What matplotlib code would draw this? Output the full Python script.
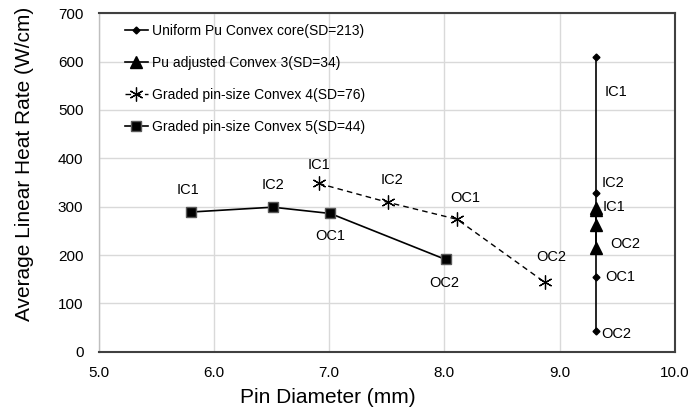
import matplotlib
matplotlib.use('Agg')
import matplotlib.pyplot as plt

plt.rcParams['font.family'] = ['Liberation Sans', 'DejaVu Sans']

# data
regions = ['IC1', 'IC2', 'OC1', 'OC2']
uni_x = [9.32, 9.32, 9.32, 9.32]
uni_y = [609, 328, 155, 43]
pu_x = [9.32, 9.32, 9.32, 9.32]
pu_y = [297, 293, 262, 215]
g4_x = [6.91, 7.51, 8.11, 8.87]
g4_y = [348, 309, 274, 144]
g5_x = [5.80, 6.51, 7.01, 8.01]
g5_y = [289, 299, 286, 191]

labels = ['Uniform Pu Convex core(SD=213)',
          'Pu adjusted Convex 3(SD=34)',
          'Graded pin-size Convex 4(SD=76)',
          'Graded pin-size Convex 5(SD=44)']

fig = plt.figure(figsize=(6.9, 4.12), dpi=100)
ax = fig.add_axes([0.143, 0.146, 0.835, 0.822])

ax.plot(uni_x, uni_y, color='black', lw=1.2, marker='D', ms=3.5, label=labels[0])
ax.plot(pu_x, pu_y, color='black', lw=1.2, marker='^', ms=9, label=labels[1])
ax.plot(g4_x, g4_y, color='black', lw=1, ls=(0, (4, 3)), marker=(6, 2, 0), ms=10,
        mew=0.9, label=labels[2])
ax.plot(g5_x, g5_y, color='black', lw=1.2, marker='s', ms=7, mec='#595959',
        mew=1, label=labels[3])

# point labels (offsets in points)
fs = 10.5
def lab(x, y, t, dx, dy, ha='center'):
    ax.annotate(t, (x, y), xytext=(dx, dy), textcoords='offset points',
                ha=ha, va='center', fontsize=fs)

# graded 5
lab(g5_x[0], g5_y[0], 'IC1', -2, 16)
lab(g5_x[1], g5_y[1], 'IC2', 0, 16)
lab(g5_x[2], g5_y[2], 'OC1', 0, -16)
lab(g5_x[3], g5_y[3], 'OC2', -1, -17)
# graded 4
lab(g4_x[0], g4_y[0], 'IC1', 0, 13)
lab(g4_x[1], g4_y[1], 'IC2', 3, 16)
lab(g4_x[2], g4_y[2], 'OC1', 6, 15)
lab(g4_x[3], g4_y[3], 'OC2', 5, 18)
# uniform
lab(uni_x[0], uni_y[0], 'IC1', 6, -25, ha='left')
lab(uni_x[1], uni_y[1], 'IC2', 3.6, 7, ha='left')
lab(uni_x[2], uni_y[2], 'OC1', 6, 0, ha='left')
lab(uni_x[3], uni_y[3], 'OC2', 3.6, -2, ha='left')
# pu adjusted
lab(pu_x[0], pu_y[0], 'IC1', 4.5, 1, ha='left')
lab(pu_x[3], pu_y[3], 'OC2', 10, 3, ha='left')

ax.set_xlim(5, 10)
ax.set_ylim(0, 700)
ax.set_xticks([5, 6, 7, 8, 9, 10])
ax.set_xticklabels(['5.0', '6.0', '7.0', '8.0', '9.0', '10.0'])
ax.set_yticks(range(0, 701, 100))
ax.tick_params(length=0, labelsize=11)
ax.tick_params(axis='x', pad=10)
ax.tick_params(axis='y', pad=11)
ax.grid(True, color='#d9d9d9', lw=1)
ax.set_axisbelow(True)
for s in ['top', 'right', 'bottom']:
    ax.spines[s].set_color('#404040')
    ax.spines[s].set_linewidth(1.5)
ax.spines['left'].set_color('#bfbfbf')
ax.spines['left'].set_linewidth(1)

ax.set_xlabel('Pin Diameter (mm)', fontsize=15)
ax.xaxis.set_label_coords(0.398, -0.108)
ax.set_ylabel('Average Linear Heat Rate (W/cm)', fontsize=15)
ax.yaxis.set_label_coords(-0.112, 0.555)

ax.legend(loc='upper left', frameon=False, fontsize=10, handlelength=1.65,
          handletextpad=0.3, labelspacing=1.3, borderaxespad=0, borderpad=0,
          bbox_to_anchor=(0.045, 0.968))

fig.savefig('out.png', dpi=100)
